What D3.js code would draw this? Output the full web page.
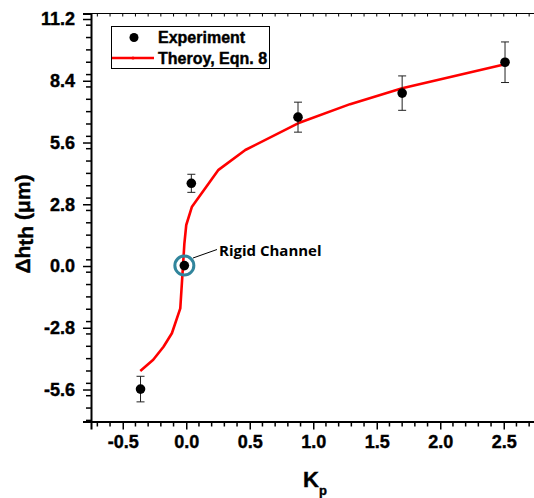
<!DOCTYPE html>
<html>
<head>
<meta charset="utf-8">
<script src="https://cdn.jsdelivr.net/npm/d3@7"></script>
<style>
  body { margin: 0; background: #fff; }
  svg { font-family: "Liberation Sans", Arial, sans-serif; }
  .heavy { stroke: black; stroke-width: 0.4px; }
</style>
</head>
<body>
<svg id="chart" width="534" height="498"></svg>
<script>
// experiment points (Kp, dh, error)
var expKp  = [-0.36, 0.04, -0.015, 0.88, 1.70, 2.51];
var expDh  = [-5.58, 3.75, 0.02, 6.75, 7.84, 9.24];
var expErr = [0.58, 0.41, 0, 0.68, 0.78, 0.92];

// theory curve, Eqn. 8
var thKp = [-0.362, -0.26, -0.179, -0.113, -0.047, -0.026, -0.015, 0.0, 0.045, 0.254, 0.465, 0.88, 1.29, 1.70, 2.51];
var thDh = [-4.76, -4.25, -3.66, -3.05, -1.92, -0.03, 1.0, 1.86, 2.69, 4.36, 5.26, 6.47, 7.34, 8.06, 9.15];

var xTicks = [-0.5, 0.0, 0.5, 1.0, 1.5, 2.0, 2.5];
var yTicks = [-5.6, -2.8, 0.0, 2.8, 5.6, 8.4, 11.2];

var svg = d3.select("#chart")

var x = d3.scaleLinear().domain([-0.75, 2.75]).range([91, 535.5])
var y = d3.scaleLinear().domain([-7.05, 11.45]).range([421.5, 13.5])

// hyphen minus like the original
var fmt = function(d){ return d.toFixed(1) }

// frame: top line
svg.append("line").attr("x1", 91).attr("x2", 534).attr("y1", 13.5).attr("y2", 13.5)
  .attr("stroke", "black").attr("stroke-width", 1.2)

// minor ticks
var xMinor = d3.range(-0.7, 2.75, 0.1).filter(function(v){ return Math.abs(v*2 - Math.round(v*2)) > 0.01 })
var yMinor = d3.range(-7.0, 11.45, 0.56).filter(function(v){ return Math.abs(v/2.8 - Math.round(v/2.8)) > 0.01 })

// axes
var xAxis = d3.axisBottom(x).tickValues(xTicks).tickFormat(fmt).tickSize(8).tickPadding(6)
var gx = svg.append("g").attr("transform", "translate(0,421.5)").call(xAxis)
gx.selectAll(".tick line").attr("stroke-width", 1.5)
gx.select(".domain").attr("stroke-width", 2)
gx.selectAll("text").attr("class", "heavy").style("font-size", "18px").style("font-weight", "bold").attr("fill", "black")
gx.selectAll(".minor").data(xMinor).enter().append("line")
  .attr("x1", function(d){ return x(d) }).attr("x2", function(d){ return x(d) })
  .attr("y1", 0).attr("y2", 5).attr("stroke", "black").attr("stroke-width", 1.5)

var yAxis = d3.axisLeft(y).tickValues(yTicks).tickFormat(fmt).tickSize(8).tickPadding(8)
var gy = svg.append("g").attr("transform", "translate(91,0)").call(yAxis)
gy.selectAll(".tick line").attr("stroke-width", 1.5)
gy.select(".domain").attr("stroke-width", 2)
gy.selectAll("text").attr("class", "heavy").style("font-size", "18px").style("font-weight", "bold").attr("fill", "black")
gy.selectAll(".minor").data(yMinor).enter().append("line")
  .attr("y1", function(d){ return y(d) }).attr("y2", function(d){ return y(d) })
  .attr("x1", 0).attr("x2", -5).attr("stroke", "black").attr("stroke-width", 1.5)

// top minor ticks
svg.selectAll(".topTick").data(d3.range(-0.7, 2.75, 0.1)).enter().append("line")
  .attr("x1", function(d){ return x(d) }).attr("x2", function(d){ return x(d) })
  .attr("y1", 13.5).attr("y2", 16.5).attr("stroke", "black").attr("stroke-width", 1)

// theory line
var line = d3.line().x(function(d, i){ return x(thKp[i]) }).y(function(d){ return y(d) })
svg.append("path").datum(thDh).attr("d", line)
  .attr("fill", "none").attr("stroke", "#ff0000").attr("stroke-width", 2.6).attr("stroke-linejoin", "round")

// error bars
var pts = expKp.map(function(k, i){ return {k: k, v: expDh[i], e: expErr[i]} })
var eb = svg.selectAll(".eb").data(pts.filter(function(d){ return d.e > 0 })).enter().append("g")
eb.append("line").attr("x1", function(d){ return x(d.k) }).attr("x2", function(d){ return x(d.k) })
  .attr("y1", function(d){ return y(d.v - d.e) }).attr("y2", function(d){ return y(d.v + d.e) })
  .attr("stroke", "#222").attr("stroke-width", 1)
eb.append("line").attr("x1", function(d){ return x(d.k) - 4 }).attr("x2", function(d){ return x(d.k) + 4 })
  .attr("y1", function(d){ return y(d.v + d.e) }).attr("y2", function(d){ return y(d.v + d.e) })
  .attr("stroke", "#222").attr("stroke-width", 1)
eb.append("line").attr("x1", function(d){ return x(d.k) - 4 }).attr("x2", function(d){ return x(d.k) + 4 })
  .attr("y1", function(d){ return y(d.v - d.e) }).attr("y2", function(d){ return y(d.v - d.e) })
  .attr("stroke", "#222").attr("stroke-width", 1)

svg.selectAll(".pt").data(pts).enter().append("circle")
  .attr("cx", function(d){ return x(d.k) }).attr("cy", function(d){ return y(d.v) }).attr("r", 4.8).attr("fill", "black")

// rigid channel annotation
svg.append("circle").attr("cx", x(-0.015)).attr("cy", y(0.02)).attr("r", 9.5)
  .attr("fill", "none").attr("stroke", "#31859c").attr("stroke-width", 3)
svg.append("line").attr("x1", 193).attr("y1", 258).attr("x2", 217).attr("y2", 249.5)
  .attr("stroke", "black").attr("stroke-width", 1)
svg.append("text").attr("x", 219).attr("y", 256).text("Rigid Channel")
  .style("font-family", "'Open Sans', sans-serif").style("font-size", "15px").style("font-weight", "bold")

// legend
svg.append("rect").attr("x", 111.5).attr("y", 26.5).attr("width", 158).attr("height", 42)
  .attr("fill", "white").attr("stroke", "black").attr("stroke-width", 1)
svg.append("circle").attr("cx", 134).attr("cy", 37.5).attr("r", 4.5).attr("fill", "black")
svg.append("text").attr("class", "heavy").attr("x", 158).attr("y", 43).text("Experiment").style("font-size", "16px").style("font-weight", "bold")
svg.append("line").attr("x1", 112).attr("x2", 154).attr("y1", 58).attr("y2", 58).attr("stroke", "#ff0000").attr("stroke-width", 2.6)
svg.append("circle").attr("cx", 133).attr("cy", 58).attr("r", 1.6).attr("fill", "#ff0000")
svg.append("text").attr("class", "heavy").attr("x", 158).attr("y", 64).text("Theroy, Eqn. 8").style("font-size", "16px").style("font-weight", "bold")

// axis titles
svg.append("text").attr("class", "heavy").attr("transform", "translate(30,224) rotate(-90)").attr("text-anchor", "middle")
  .style("font-size", "21px").style("font-weight", "bold")
  .call(function(t){
    t.append("tspan").text("\u0394h")
    t.append("tspan").attr("dy", 3).text("th")
    t.append("tspan").attr("dy", -3).text(" (\u03bcm)")
  })
svg.append("text").attr("class", "heavy").attr("x", 303).attr("y", 487).style("font-size", "22px").style("font-weight", "bold")
  .call(function(t){
    t.append("tspan").text("K")
    t.append("tspan").attr("dy", 8).style("font-size", "13px").text("p")
  })
</script>
</body>
</html>
